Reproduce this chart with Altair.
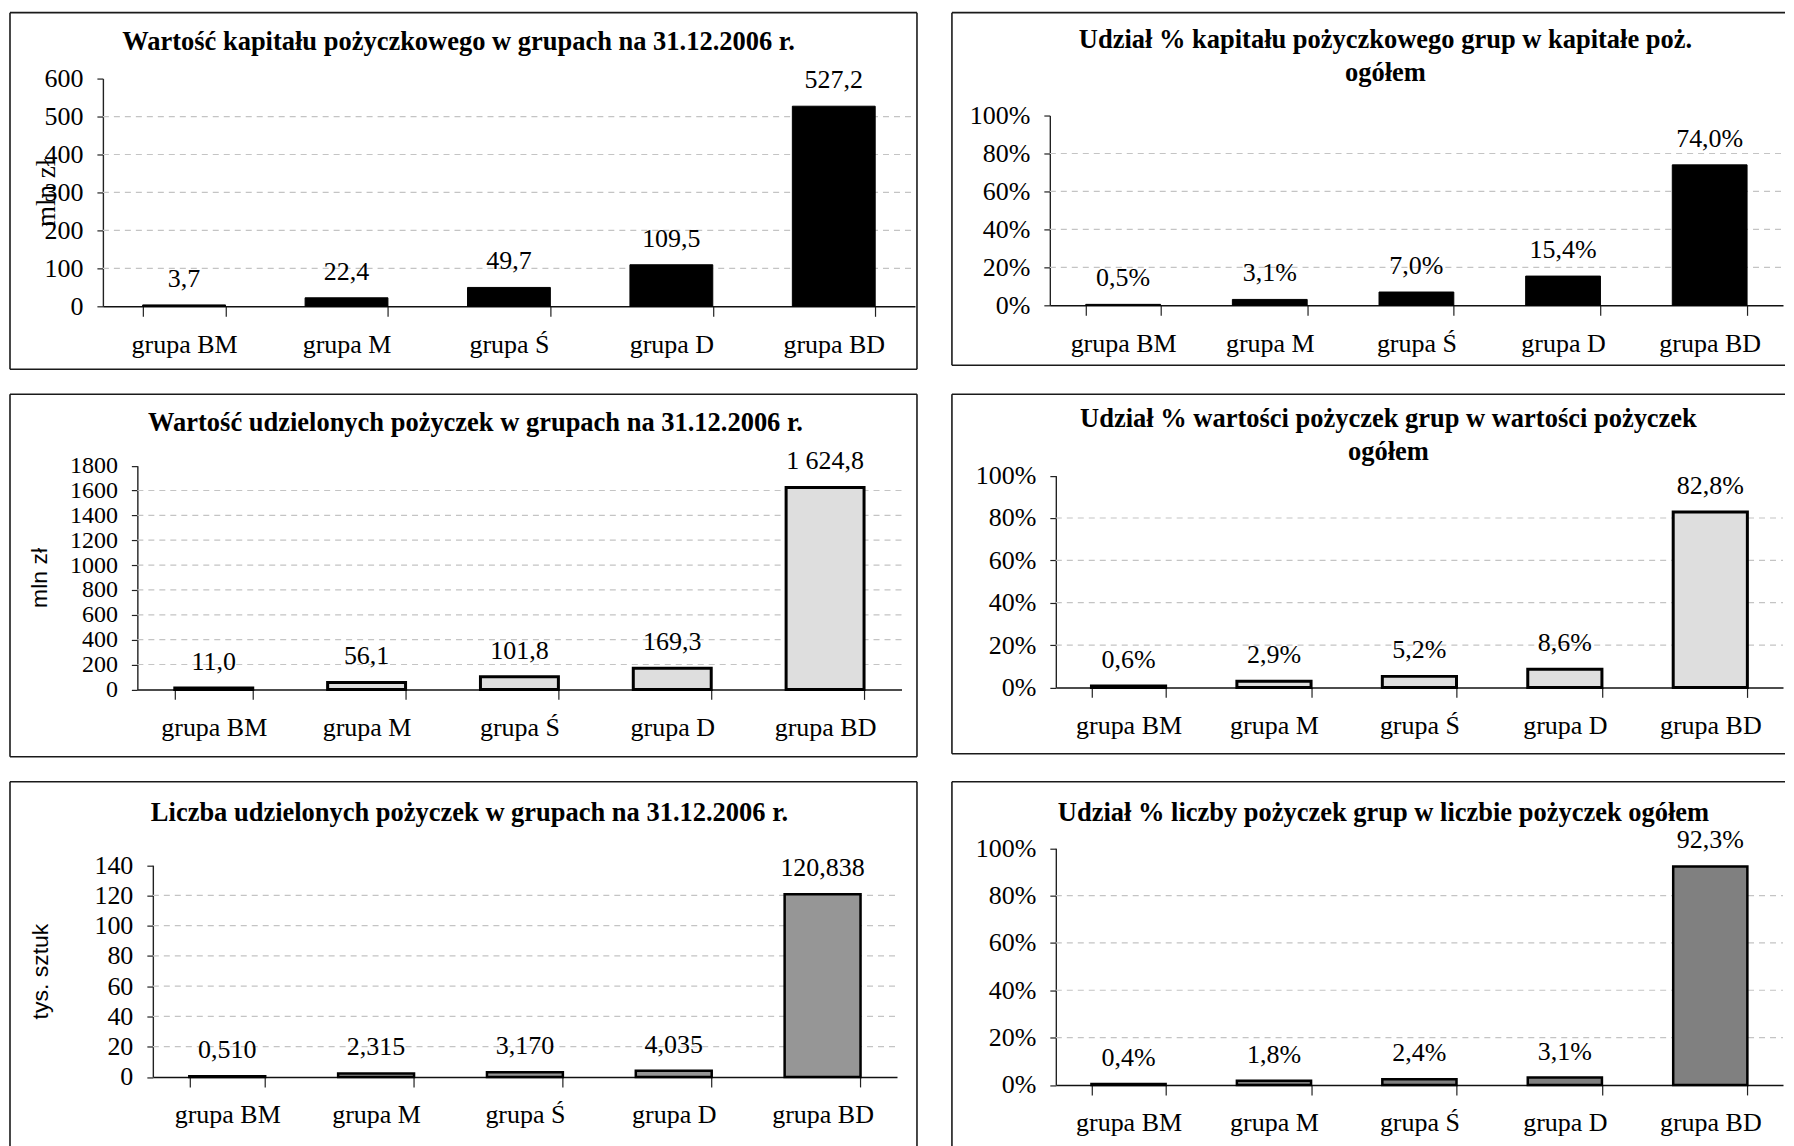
import altair as alt
import pandas as pd

categories = ["grupa BM", "grupa M", "grupa Ś", "grupa D", "grupa BD"]

kapital = [3.7, 22.4, 49.7, 109.5, 527.2]
kapital_pct = [0.5, 3.1, 7.0, 15.4, 74.0]
pozyczki = [11.0, 56.1, 101.8, 169.3, 1624.8]
pozyczki_pct = [0.6, 2.9, 5.2, 8.6, 82.8]
liczba = [0.510, 2.315, 3.170, 4.035, 120.838]
liczba_pct = [0.4, 1.8, 2.4, 3.1, 92.3]

titles = {
    "kap": ["Wartość kapitału pożyczkowego w grupach na 31.12.2006 r."],
    "kap_pct": ["Udział % kapitału pożyczkowego grup w kapitałe poż.", "ogółem"],
    "poz": ["Wartość udzielonych pożyczek w grupach na 31.12.2006 r."],
    "poz_pct": ["Udział % wartości pożyczek grup w wartości pożyczek", "ogółem"],
    "lic": ["Liczba udzielonych pożyczek w grupach na 31.12.2006 r."],
    "lic_pct": ["Udział % liczby pożyczek grup w liczbie pożyczek ogółem"],
}

SERIF = "Liberation Serif"
SANS = "Liberation Sans"


def fmt(v, dec, pct=False, thousands=False):
    s = f"{v:,.{dec}f}" if thousands else f"{v:.{dec}f}"
    s = s.replace(",", " ").replace(".", ",")
    return s + ("%" if pct else "")


def frame_layers(W, H, open_right=False, open_bottom=False):
    one = pd.DataFrame({"k": [0]})
    style = dict(color="#1a1a1a", strokeWidth=1.6, clip=False)
    layers = [
        alt.Chart(one).mark_rule(**style).encode(x=alt.value(0), x2=alt.value(W), y=alt.value(0)),
        alt.Chart(one).mark_rule(**style).encode(x=alt.value(0), y=alt.value(0), y2=alt.value(H)),
    ]
    if not open_right:
        layers.append(alt.Chart(one).mark_rule(**style).encode(
            x=alt.value(W), y=alt.value(0), y2=alt.value(H)))
    if not open_bottom:
        layers.append(alt.Chart(one).mark_rule(**style).encode(
            x=alt.value(0), x2=alt.value(W), y=alt.value(H)))
    return layers


def panel(values, labels, title_lines, title_xy, ymax, ystep, pct,
          fill, stroke, stroke_w, W, H, plot, open_right=False, open_bottom=False,
          ytitle=None, ytitle_font=SERIF, ytitle_size=26, ytitle_x=-50, ylabel_size=26):
    """W, H: frame size; plot = (x0, x1, ytop, ybottom) in frame pixels."""
    df = pd.DataFrame({"cat": categories, "v": values, "lab": labels})
    one = pd.DataFrame({"k": [0]})
    px0, px1, pyt, pyb = plot

    yvals = list(range(0, ymax + 1, ystep))
    grid_df = pd.DataFrame({"v": [g for g in yvals if 0 < g < ymax]})

    ax = dict(
        values=yvals, grid=False, offset=-px0,
        domainColor="#222222", domainWidth=1.4, tickColor="#222222", tickSize=6, tickWidth=1.2,
        labelFont=SERIF, labelFontSize=ylabel_size, labelColor="black", labelPadding=14,
        labelOverlap=False,
    )
    if pct:
        ax["labelExpr"] = "datum.value + '%'"
    else:
        ax["format"] = "d"
    if ytitle:
        ax.update(title=ytitle, titleFont=ytitle_font, titleFontSize=ytitle_size,
                  titleFontWeight="normal", titleColor="black", titleAngle=270,
                  titleAlign="center", titleBaseline="middle", titleX=ytitle_x,
                  titleY=(pyt + pyb) / 2)
    else:
        ax["title"] = None

    xaxis = alt.Axis(title=None, labelAngle=0, tickBand="extent", tickSize=10,
                     offset=-(H - pyb),
                     tickColor="#222222", tickWidth=1.2, domainColor="#111111", domainWidth=1.5,
                     labelFont=SERIF, labelFontSize=26, labelColor="black", labelPadding=15,
                     grid=False)

    x_enc = alt.X("cat:N", sort=categories,
                  scale=alt.Scale(range=[px0, px1], paddingInner=0.49, paddingOuter=0.245),
                  axis=xaxis)
    y_enc = alt.Y("v:Q", scale=alt.Scale(domain=[0, ymax], range=[pyb, pyt], nice=False, zero=True),
                  axis=alt.Axis(**ax))

    grid = alt.Chart(grid_df).mark_rule(color="#c4c4c4", strokeWidth=1.2, strokeDash=[6, 5]).encode(
        y=y_enc, x=alt.value(px0), x2=alt.value(px1))

    bars = alt.Chart(df).mark_bar(fill=fill, stroke=stroke, strokeWidth=stroke_w).encode(
        x=x_enc, y=y_enc)

    text = alt.Chart(df).mark_text(
        font=SERIF, fontSize=26, color="black", baseline="alphabetic", dy=-18
    ).encode(x=x_enc, y=y_enc, text="lab:N")

    ttext = title_lines if len(title_lines) > 1 else title_lines[0]
    title_l = alt.Chart(one).mark_text(
        text=ttext, font=SERIF, fontSize=26.5, fontWeight="bold", color="black",
        align="center", baseline="middle", lineHeight=33
    ).encode(x=alt.value(title_xy[0]), y=alt.value(title_xy[1]))

    layers = frame_layers(W, H, open_right, open_bottom) + [grid, bars, text, title_l]
    return alt.layer(*layers).properties(width=W, height=H)


# frames: left column 908 px wide, right column runs to the page edge
p1 = panel(kapital, [fmt(v, 1) for v in kapital], titles["kap"], (449, 29),
           600, 100, False, "black", "black", 1, 908, 357, (93, 906, 66, 294),
           ytitle="mln zł", ytitle_font=SERIF, ytitle_size=27, ytitle_x=-56)
p2 = panel(kapital_pct, [fmt(v, 1, pct=True) for v in kapital_pct], titles["kap_pct"], (434, 27),
           100, 20, True, "black", "black", 1, 834, 353, (98, 832, 103, 293), open_right=True)
p3 = panel(pozyczki, [fmt(v, 1, thousands=True) for v in pozyczki], titles["poz"], (466, 28.5),
           1800, 200, False, "#dedede", "black", 3, 908, 363, (127.5, 892.5, 71.5, 295.5),
           ytitle="mln zł", ytitle_font=SANS, ytitle_size=23, ytitle_x=-98, ylabel_size=24)
p4 = panel(pozyczki_pct, [fmt(v, 1, pct=True) for v in pozyczki_pct], titles["poz_pct"], (437, 24.5),
           100, 20, True, "#dedede", "black", 3, 834, 360, (104, 832, 81.5, 293.5), open_right=True)
p5 = panel(liczba, [fmt(v, 3) for v in liczba], titles["lic"], (460, 31.5),
           140, 20, False, "#969696", "black", 2.5, 908, 380, (143, 888, 83.5, 295.5),
           open_bottom=True,
           ytitle="tys. sztuk", ytitle_font=SANS, ytitle_size=23, ytitle_x=-112)
p6 = panel(liczba_pct, [fmt(v, 1, pct=True) for v in liczba_pct], titles["lic_pct"], (432, 31.5),
           100, 20, True, "#808080", "black", 2.5, 834, 380, (104, 832, 66.5, 303.5),
           open_right=True, open_bottom=True)

chart = alt.concat(
    p1, p2, p3, p4, p5, p6, columns=2,
    spacing={"row": 23, "column": 33},
).properties(
    padding={"left": 1, "top": 3, "right": 0, "bottom": 0},
    background="white",
).configure_view(stroke=None)

chart.save("out.html", embed_options={"renderer": "svg", "actions": False})
